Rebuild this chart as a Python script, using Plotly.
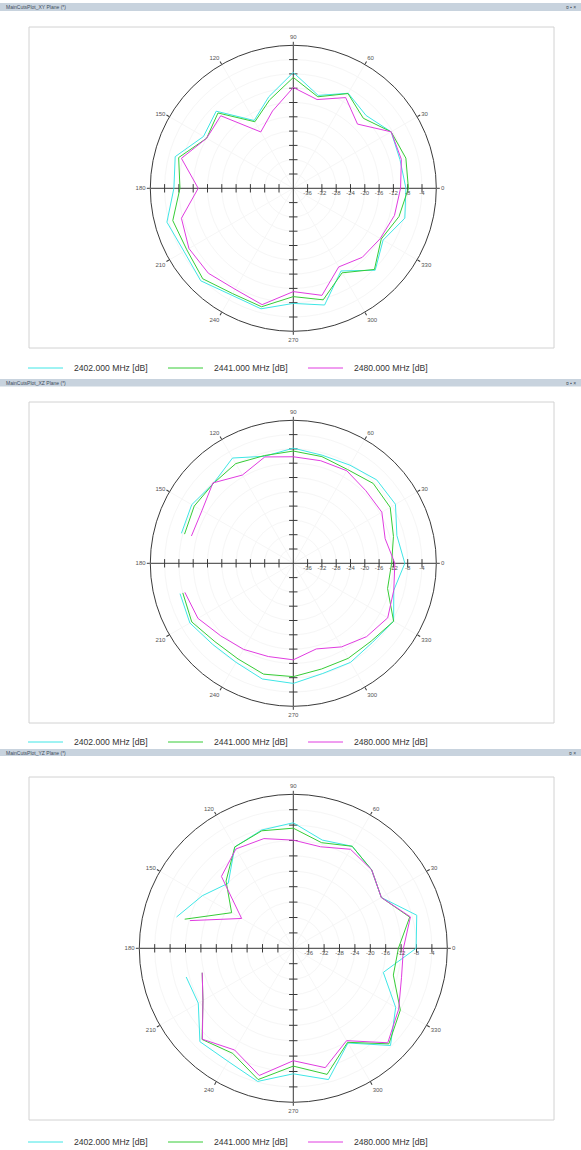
import plotly.graph_objects as go

W, H = 581, 1150

# ---------------- data ----------------
ANGLES = [0, 15, 30, 45, 60, 75, 90, 105, 120, 135, 150, 165,
          180, 195, 210, 225, 240, 255, 270, 285, 300, 315, 330, 345]
FREQ_LABELS = ["2402.000 MHz [dB]", "2441.000 MHz [dB]", "2480.000 MHz [dB]"]
RADIAL_TICKS = [-36, -32, -28, -24, -20, -16, -12, -8, -4]
ANG_TICKS = [0, 30, 60, 90, 120, 150, 180, 210, 240, 270, 300, 330]
R_RANGE = [-40, 0]

XY_2402 = [-8.5, -9.1, -8.4, -11.2, -9.3, -13.1, -7.6, -13.5, -18.1, -9.5, -11.0, -5.8,
           -6.6, -3.4, -4.7, -3.4, -5.5, -5.1, -7.8, -6.2, -13.3, -7.6, -11.0, -7.7]
XY_2441 = [-7.8, -7.4, -8.4, -12.3, -9.4, -13.5, -9.0, -14.4, -18.5, -10.2, -12.0, -6.8,
           -8.3, -5.1, -5.6, -4.2, -6.0, -5.7, -9.7, -7.7, -12.7, -7.9, -11.6, -9.4]
XY_2480 = [-10.0, -8.7, -8.4, -14.6, -10.7, -14.3, -11.8, -17.6, -21.8, -11.3, -12.0, -7.6,
           -13.4, -7.6, -6.3, -6.4, -7.4, -6.3, -11.1, -9.0, -14.6, -12.7, -11.9, -10.7]

XZ_2402 = [-8.8, -10.0, -7.0, -7.0, -8.3, -8.7, -7.8, -9.0, -6.0, -8.4, -7.2, -7.6,
           None, -7.2, -6.6, -8.0, -8.0, -6.5, -6.4, -8.1, -8.0, -8.7, -7.6, -10.9]
XZ_2441 = [-12.5, -11.0, -8.7, -8.4, -9.7, -9.1, -8.6, -8.8, -7.8, -8.4, -8.0, -8.5,
           None, -8.0, -7.2, -9.0, -9.1, -7.9, -8.3, -9.4, -9.3, -9.2, -7.6, -12.7]
XZ_2480 = [-11.6, -13.4, -11.4, -11.3, -10.1, -10.3, -10.2, -9.2, -11.5, -8.2, -10.5, -10.5,
           None, -8.6, -9.2, -11.3, -12.2, -13.0, -13.0, -15.2, -13.0, -11.0, -9.5, -10.9]

YZ_2402 = [-8.1, -6.8, -13.6, -11.2, -9.4, -10.9, -7.4, -8.2, -9.6, -16.1, -12.7, -8.6,
           None, -11.2, -11.5, -5.7, -6.1, -4.2, -7.4, -4.7, -11.6, -4.3, -9.3, -15.8]
YZ_2441 = [-12.7, -8.7, -13.6, -11.2, -9.4, -11.6, -8.8, -8.4, -9.6, -15.3, -21.5, -10.8,
           None, -15.5, -12.9, -6.5, -8.5, -4.7, -9.4, -6.1, -11.8, -4.9, -7.9, -13.1]
YZ_2480 = [-11.4, -8.5, -13.6, -11.2, -10.3, -12.7, -11.9, -10.5, -10.2, -13.6, -24.5, -12.2,
           None, -15.5, -12.9, -6.6, -9.5, -5.8, -10.8, -7.9, -12.3, -5.3, -8.4, -10.9]

TITLES = ["MainCutsPlot_XY Plane (*)", "MainCutsPlot_XZ Plane (*)", "MainCutsPlot_YZ Plane (*)"]

# ---------------- styles ----------------
COLORS = ["#3fe6e6", "#36cc36", "#e03ce0"]
AXIS_COLOR = "#3a3a3a"
LABEL_COLOR = "#555555"
GRID_COLOR = "#f6f6f6"
BAR_COLOR = "#c8d3de"
BOX_COLOR = "#d2d2d2"
FONT = "Liberation Sans, Arial, sans-serif"

panels = [
    dict(title=TITLES[0], series=[XY_2402, XY_2441, XY_2480], cx=293.3, cy=188.3, r=143,
         box=(29, 27, 554, 348), bar=(3, 11), legend_y=368, icons="¤ ▪ ×"),
    dict(title=TITLES[1], series=[XZ_2402, XZ_2441, XZ_2480], cx=293.3, cy=563.3, r=143,
         box=(29, 402, 554, 723), bar=(379, 386.5), legend_y=742, icons="¤ ▪ ×"),
    dict(title=TITLES[2], series=[YZ_2402, YZ_2441, YZ_2480], cx=293.3, cy=948.3, r=154,
         box=(29, 777, 554, 1120), bar=(749, 756), legend_y=1142, icons="¤ ×"),
]


def px(x):
    return x / W


def py(y):
    return 1 - y / H


fig = go.Figure()
shapes = []
annotations = []
layout_polars = {}

for i, p in enumerate(panels):
    key = "polar" if i == 0 else f"polar{i + 1}"
    sub = key
    cx, cy, r = p["cx"], p["cy"], p["r"]
    layout_polars[key] = dict(
        domain=dict(x=[px(cx - r), px(cx + r)], y=[py(cy + r), py(cy - r)]),
        bgcolor="rgba(0,0,0,0)",
        angularaxis=dict(
            rotation=0, direction="counterclockwise",
            tickmode="array", tickvals=ANG_TICKS, ticktext=[str(a) for a in ANG_TICKS],
            showline=True, linecolor=AXIS_COLOR, linewidth=1,
            ticks="outside", ticklen=3, tickcolor=AXIS_COLOR,
            tickfont=dict(size=6, color=LABEL_COLOR, family=FONT),
            showgrid=True, gridcolor=GRID_COLOR, gridwidth=1,
        ),
        radialaxis=dict(
            range=R_RANGE, angle=0, tickangle=0,
            tickmode="array", tickvals=RADIAL_TICKS, ticktext=[str(v) for v in RADIAL_TICKS],
            showline=False, ticks="",
            tickfont=dict(size=6, color=LABEL_COLOR, family=FONT),
            showgrid=True, gridcolor=GRID_COLOR, gridwidth=1,
        ),
    )

    # cross axes through the centre
    fig.add_trace(go.Scatterpolar(r=[R_RANGE[1], R_RANGE[0], R_RANGE[1]], theta=[180, 0, 0],
                                  mode="lines", line=dict(color=AXIS_COLOR, width=1),
                                  subplot=sub, showlegend=False, hoverinfo="skip"))
    fig.add_trace(go.Scatterpolar(r=[R_RANGE[1], R_RANGE[0], R_RANGE[1]], theta=[90, 0, 270],
                                  mode="lines", line=dict(color=AXIS_COLOR, width=1),
                                  subplot=sub, showlegend=False, hoverinfo="skip"))
    # tick marks on the cross axes
    fig.add_trace(go.Scatterpolar(r=RADIAL_TICKS + RADIAL_TICKS,
                                  theta=[0] * len(RADIAL_TICKS) + [180] * len(RADIAL_TICKS),
                                  mode="markers",
                                  marker=dict(symbol="line-ns", size=6,
                                              line=dict(color=AXIS_COLOR, width=1)),
                                  subplot=sub, showlegend=False, hoverinfo="skip"))
    fig.add_trace(go.Scatterpolar(r=RADIAL_TICKS + RADIAL_TICKS,
                                  theta=[90] * len(RADIAL_TICKS) + [270] * len(RADIAL_TICKS),
                                  mode="markers",
                                  marker=dict(symbol="line-ew", size=6,
                                              line=dict(color=AXIS_COLOR, width=1)),
                                  subplot=sub, showlegend=False, hoverinfo="skip"))

    # data series (closed loops)
    for j, vals in enumerate(p["series"]):
        fig.add_trace(go.Scatterpolar(
            r=list(vals) + [vals[0]], theta=ANGLES + [360],
            mode="lines", line=dict(color=COLORS[j], width=1),
            name=FREQ_LABELS[j], subplot=sub, showlegend=False, connectgaps=False,
        ))

    # title bar
    b0, b1 = p["bar"]
    shapes.append(dict(type="rect", xref="paper", yref="paper",
                       x0=0, x1=1, y0=py(b1), y1=py(b0),
                       fillcolor=BAR_COLOR, line=dict(width=0), layer="below"))
    annotations.append(dict(xref="paper", yref="paper", x=px(4), y=py((b0 + b1) / 2),
                            xanchor="left", yanchor="middle", showarrow=False,
                            text=p["title"], font=dict(size=5, color="#3c4b5a", family=FONT)))
    annotations.append(dict(xref="paper", yref="paper", x=px(578), y=py((b0 + b1) / 2),
                            xanchor="right", yanchor="middle", showarrow=False,
                            text=p["icons"], font=dict(size=5, color="#3c4b5a", family=FONT)))

    # plot frame
    x0, y0, x1, y1 = p["box"]
    shapes.append(dict(type="rect", xref="paper", yref="paper",
                       x0=px(x0), x1=px(x1), y0=py(y1), y1=py(y0),
                       line=dict(color=BOX_COLOR, width=1), fillcolor="rgba(0,0,0,0)",
                       layer="below"))

    # legend
    ly = p["legend_y"]
    for j, label in enumerate(FREQ_LABELS):
        lx = 28 + 140 * j
        shapes.append(dict(type="line", xref="paper", yref="paper",
                           x0=px(lx), x1=px(lx + 35), y0=py(ly), y1=py(ly),
                           line=dict(color=COLORS[j], width=1)))
        annotations.append(dict(xref="paper", yref="paper", x=px(lx + 44), y=py(ly),
                                xanchor="left", yanchor="middle", showarrow=False,
                                text=label, font=dict(size=8.6, color="#333333", family=FONT)))

fig.update_layout(
    width=W, height=H,
    margin=dict(l=0, r=0, t=0, b=0),
    paper_bgcolor="white", plot_bgcolor="white",
    showlegend=False,
    shapes=shapes, annotations=annotations,
    font=dict(family=FONT),
    **layout_polars,
)

fig.write_html("out.html", config={"displayModeBar": False},
               post_script="document.body.style.margin='0';")
